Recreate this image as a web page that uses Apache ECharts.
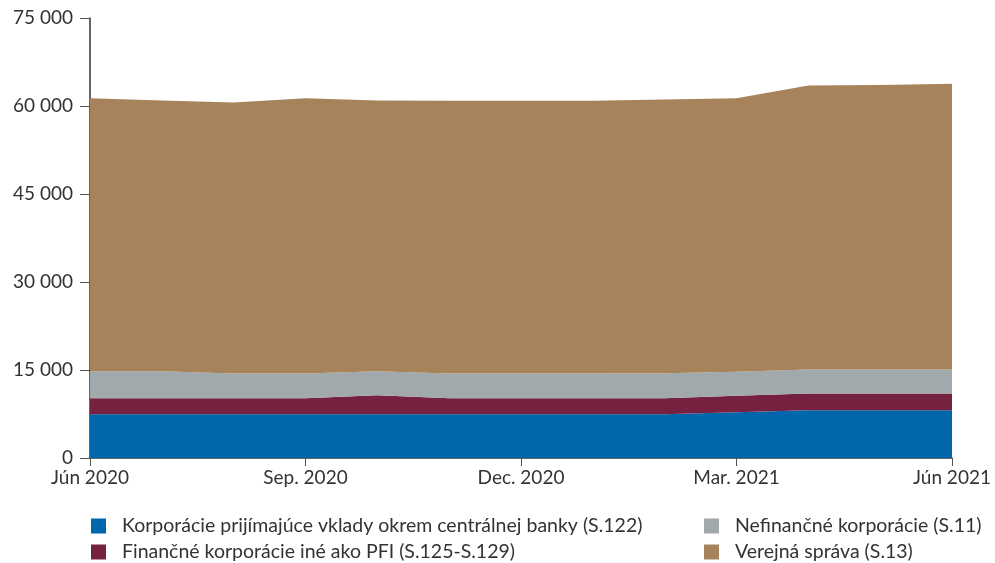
<!DOCTYPE html>
<html><head><meta charset="utf-8">
<script src="https://cdn.jsdelivr.net/npm/echarts@6/dist/echarts.min.js"></script>
<style>html,body{margin:0;padding:0;background:#fff}#c{width:995px;height:563px}</style>
</head><body><div id="c"></div>
<script>
const categories = ['Jún 2020','Júl 2020','Aug. 2020','Sep. 2020','Okt. 2020','Nov. 2020','Dec. 2020','Jan. 2021','Feb. 2021','Mar. 2021','Apr. 2021','Máj 2021','Jún 2021'];
const seriesNames = ['Korporácie prijímajúce vklady okrem centrálnej banky (S.122)','Finančné korporácie iné ako PFI (S.125-S.129)','Nefinančné korporácie (S.11)','Verejná správa (S.13)'];
const s122 = [7450,7450,7450,7450,7450,7450,7450,7450,7450,7800,8150,8150,8150];
const s125 = [2750,2750,2750,2750,3250,2750,2750,2750,2750,2800,2850,2850,2850];
const s11  = [4600,4600,4200,4200,4100,4200,4200,4200,4250,4100,4100,4100,4100];
const s13  = [46500,46150,46200,46900,46150,46500,46500,46500,46650,46600,48400,48500,48700];
const yTicks = [0,15000,30000,45000,60000,75000];
const colors = ['#0067AC','#75213F','#A2A9AC','#A6835A'];
const font = 'Lato';
const data = [s122,s125,s11,s13];
const legendPos = [[91,516],[91,542],[704,516],[704,542]];
const chart = echarts.init(document.getElementById('c'));
chart.setOption({
  animation:false,
  textStyle:{fontFamily:font},
  color:colors,
  grid:{left:90,right:43,top:18,bottom:105,containLabel:false},
  legend:seriesNames.map((n,i)=>({data:[n],left:legendPos[i][0],top:legendPos[i][1],padding:0,
    itemWidth:15,itemHeight:15,icon:'rect',selectedMode:false,
    textStyle:{fontSize:19.5,color:'#333',fontFamily:font,padding:[0,0,0,11]}})),
  xAxis:{type:'category',data:categories,boundaryGap:false,
    axisLine:{lineStyle:{color:'#333',width:1.5}},
    axisTick:{interval:2,length:8,lineStyle:{color:'#555'}},
    axisLabel:{interval:2,fontSize:19,color:'#333',margin:10,fontFamily:font}},
  yAxis:{type:'value',min:yTicks[0],max:yTicks[yTicks.length-1],interval:15000,
    splitLine:{show:false},
    axisLine:{show:true,lineStyle:{color:'#333',width:1.5}},
    axisTick:{show:true,length:10,lineStyle:{color:'#555'}},
    axisLabel:{fontSize:19,color:'#333',margin:17,fontFamily:font,
      formatter:v=>String(v).replace(/\B(?=(\d{3})+(?!\d))/g,' ')}},
  series:data.map((d,i)=>({name:seriesNames[i],type:'line',stack:'total',data:d,symbol:'none',
    lineStyle:{width:0},areaStyle:{color:colors[i],opacity:1}}))
});
</script></body></html>
